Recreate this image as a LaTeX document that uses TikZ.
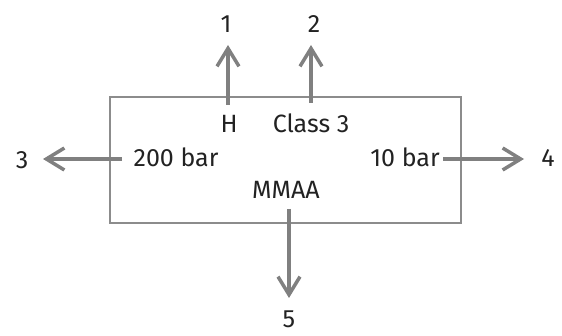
\documentclass[tikz,border=0pt]{standalone}
\usepackage{fontspec}
\setmainfont{Fira Sans}
\usetikzlibrary{arrows.meta}
\definecolor{arr}{RGB}{128,128,128}
\definecolor{boxc}{RGB}{140,140,140}
\definecolor{txt}{RGB}{34,34,34}
\begin{document}
\begin{tikzpicture}[x=1pt,y=-1pt,
  flow/.style={draw=arr, line width=3.5pt, -{Straight Barb[length=18pt,width=22pt]}},
  lbl/.style={text=txt, font=\fontsize{25}{30}\selectfont, inner sep=0pt, anchor=base}]
\useasboundingbox (0,0) rectangle (562,336);
\node[draw=boxc, line width=1.5pt, minimum width=351pt, minimum height=126pt, inner sep=0pt] (box) at (285.5,160) {};
% texts inside
\node[lbl] (h) at (229,133) {H};
\node[lbl] (cls) at (311,133) {Class 3};
\node[lbl] (p200) at (176,167) {200 bar};
\node[lbl] (p10) at (405,167) {10 bar};
\node[lbl] (mmaa) at (286,199) {MMAA};
% outer labels
\node[lbl] (o1) at (226,33) {1};
\node[lbl] (o2) at (314,33) {2};
\node[lbl] (o3) at (22,169) {3};
\node[lbl] (o4) at (548,167) {4};
\node[lbl] (o5) at (289,328) {5};
% shaft ends
\coordinate (s1) at (228,105); \coordinate (t1) at (228,45);
\coordinate (s2) at (311,103); \coordinate (t2) at (311,45);
\coordinate (s3) at (122,159); \coordinate (t3) at (43,159);
\coordinate (s4) at (443,159); \coordinate (t4) at (524,159);
\coordinate (s5) at (289,209); \coordinate (t5) at (289,298);
\draw[flow] (s1) -- (t1);
\draw[flow] (s2) -- (t2);
\draw[flow] (s3) -- (t3);
\draw[flow] (s4) -- (t4);
\draw[flow] (s5) -- (t5);
\end{tikzpicture}
\end{document}
